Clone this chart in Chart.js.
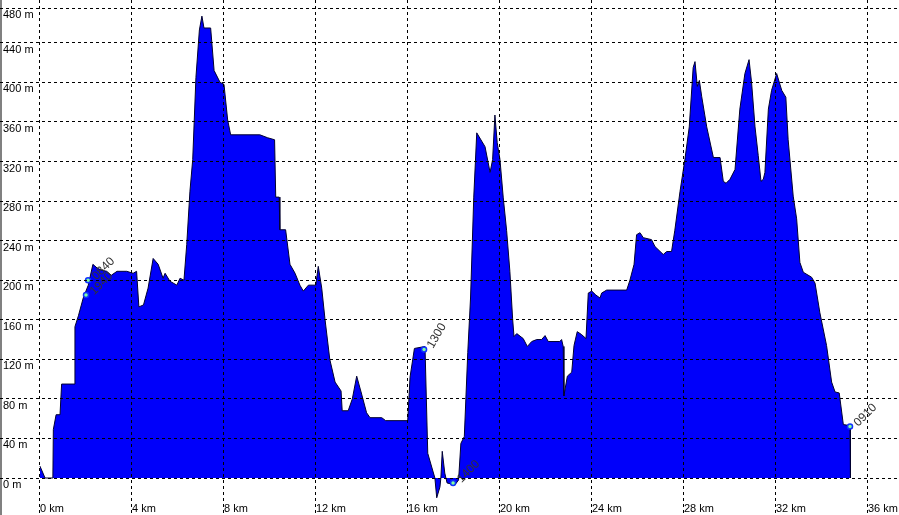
<!DOCTYPE html>
<html>
<head>
<meta charset="utf-8">
<script src="https://cdn.jsdelivr.net/npm/chart.js@4.4.1/dist/chart.umd.min.js"></script>
<style>
  html, body { margin: 0; padding: 0; background: #fff; }
  canvas { display: block; }
</style>
</head>
<body>
<canvas id="profile" width="899" height="515"></canvas>
<script>
// distance along the track (km) and elevation (m)
const distKm = [
  0, 0.22, 0.56, 0.58, 0.7, 0.87, 0.94, 1.48, 1.52, 1.67, 1.88, 2.1, 2.3, 2.5, 2.7, 2.9, 3.1, 3.35, 3.77, 4.05,
  4.2, 4.3, 4.5, 4.7, 4.92, 5.14, 5.35, 5.44, 5.65, 5.95, 6.09, 6.26, 6.38, 6.52, 6.64, 6.78, 6.93, 7.04, 7.13, 7.42,
  7.57, 7.83, 8.0, 8.16, 8.29, 9.56, 9.9, 10.2, 10.25, 10.4, 10.43, 10.68, 10.87, 11.09, 11.3, 11.45, 11.67, 11.99, 12.1, 12.25,
  12.39, 12.6, 12.83, 13.09, 13.14, 13.4, 13.58, 13.77, 13.96, 14.2, 14.35, 14.86, 15.03, 15.99, 16.09, 16.28, 16.74, 16.86, 17.17, 17.25,
  17.39, 17.43, 17.49, 17.6, 17.7, 18.04, 18.2, 18.3, 18.45, 18.6, 18.72, 18.86, 18.99, 19.35, 19.57, 19.68, 19.78, 19.88, 20.0, 20.14,
  20.29, 20.43, 20.55, 20.61, 20.73, 21.01, 21.19, 21.38, 21.6, 21.81, 21.96, 22.1, 22.6, 22.68, 22.75, 22.78, 22.93, 23.12, 23.22, 23.36,
  23.55, 23.74, 23.84, 23.99, 24.17, 24.35, 24.42, 24.64, 25.51, 25.65, 25.83, 25.94, 26.09, 26.23, 26.59, 26.74, 27.1, 27.25, 27.46, 27.6,
  27.83, 28.04, 28.23, 28.4, 28.48, 28.58, 28.67, 28.77, 28.99, 29.28, 29.57, 29.71, 29.83, 30.0, 30.22, 30.43, 30.65, 30.83, 30.94, 31.09,
  31.23, 31.35, 31.45, 31.52, 31.67, 31.81, 32.03, 32.25, 32.43, 32.53, 32.75, 32.9, 33.04, 33.19, 33.55, 33.7, 33.91, 34.2, 34.42, 34.57,
  34.75, 34.93, 35.22, 35.24
];
const elevM = [
  12, 0, 0, 49, 64, 64, 95, 95, 153, 164, 182, 195, 216, 212, 210, 209, 205, 209, 209, 207,
  209, 173, 175, 192, 222, 216, 202, 207, 199, 195, 202, 200, 236, 290, 322, 405, 453, 467, 455, 455,
  412, 400, 398, 362, 347, 347, 344, 342, 284, 284, 251, 251, 216, 207, 195, 189, 195, 195, 214, 192,
  161, 120, 97, 88, 68, 68, 80, 103, 87, 66, 61, 61, 58, 58, 102, 131, 133, 25, 0, -20,
  -9, 0, 27, 5, -5, -7, -2, 35, 42, 127, 182, 284, 349, 335, 309, 322, 367, 339, 322, 284,
  250, 209, 161, 143, 146, 141, 133, 138, 140, 140, 144, 138, 138, 140, 133, 83, 103, 107, 134, 148,
  145, 141, 187, 189, 185, 182, 187, 190, 190, 200, 216, 246, 248, 243, 241, 234, 226, 229, 229, 250,
  290, 322, 355, 415, 421, 396, 402, 386, 355, 324, 324, 300, 298, 302, 312, 373, 409, 423, 400, 355,
  326, 300, 302, 309, 373, 392, 409, 392, 385, 342, 285, 262, 218, 208, 203, 197, 167, 134, 97, 87,
  86, 54, 53, 0
];

// waypoint markers with their time labels
const wpKm = [2.0, 2.09, 16.7, 17.96, 35.22];
const wpM = [185, 200, 130, -5, 52];
const wpLabel = ['1940', '0840', '1300', '1400', '0910'];
const wpAngle = [-45, -45, -60, -45, -45];

const xTicks = [0, 4, 8, 12, 16, 20, 24, 28, 32, 36];
const yTicks = [0, 40, 80, 120, 160, 200, 240, 280, 320, 360, 400, 440, 475];
const yTickLabels = ['0 m', '40 m', '80 m', '120 m', '160 m', '200 m', '240 m', '280 m', '320 m', '360 m', '400 m', '440 m', '480 m'];

const LABEL_FONT = '11px "Liberation Sans", Arial, sans-serif';
const WP_FONT = '12px "Liberation Sans", Arial, sans-serif';

const axisLabels = {
  id: 'axisLabels',
  afterDatasetsDraw(chart) {
    const ctx = chart.ctx;
    const xs = chart.scales.x, ys = chart.scales.y;
    ctx.save();
    ctx.font = LABEL_FONT;
    ctx.fillStyle = '#000';
    ctx.textBaseline = 'middle';
    ctx.textAlign = 'left';
    yTicks.forEach((v, i) => {
      const py = Math.max(ys.getPixelForValue(v) + 7, 9);
      ctx.fillText(yTickLabels[i], 3, py);
    });
    xTicks.forEach(v => {
      ctx.fillText(v + ' km', xs.getPixelForValue(v), 509);
    });
    // waypoint labels
    ctx.font = WP_FONT;
    ctx.fillStyle = '#333';
    wpKm.forEach((k, i) => {
      const px = xs.getPixelForValue(k), py = ys.getPixelForValue(wpM[i]);
      ctx.save();
      ctx.translate(px + 6, py - 2);
      ctx.rotate(wpAngle[i] * Math.PI / 180);
      ctx.fillText(wpLabel[i], 0, 0);
      ctx.restore();
    });
    // left window edge
    ctx.fillStyle = '#808080';
    ctx.fillRect(0, 0, 2, chart.height);
    ctx.restore();
  }
};

new Chart(document.getElementById('profile'), {
  type: 'line',
  data: {
    datasets: [
      {
        data: wpKm.map((k, i) => ({ x: k, y: wpM[i] })),
        showLine: false,
        pointRadius: 2.5,
        pointBorderWidth: 1.5,
        pointBorderColor: '#1030ff',
        pointBackgroundColor: '#80ffa0',
        order: 0
      },
      {
        data: distKm.map((k, i) => ({ x: k, y: elevM[i] })),
        fill: 'origin',
        backgroundColor: 'rgb(0, 0, 250)',
        borderColor: '#000030',
        borderWidth: 1,
        pointRadius: 0,
        tension: 0,
        order: 1
      }
    ]
  },
  options: {
    responsive: false,
    animation: false,
    devicePixelRatio: 1,
    layout: { padding: 0, autoPadding: false },
    plugins: { legend: { display: false }, tooltip: { enabled: false } },
    scales: {
      x: {
        type: 'linear',
        min: -1.739,
        max: 37.35,
        afterBuildTicks: axis => { axis.ticks = xTicks.map(v => ({ value: v })); },
        ticks: { display: false },
        grid: { color: '#000', lineWidth: 1, drawTicks: false, z: 1 },
        border: { display: false, dash: [3, 3] }
      },
      y: {
        type: 'linear',
        min: -37.4,
        max: 483.3,
        afterBuildTicks: axis => { axis.ticks = yTicks.map(v => ({ value: v })); },
        ticks: { display: false },
        grid: { color: '#000', lineWidth: 1, drawTicks: false, z: 1 },
        border: { display: false, dash: [3, 3] }
      }
    }
  },
  plugins: [axisLabels]
});
</script>
</body>
</html>
